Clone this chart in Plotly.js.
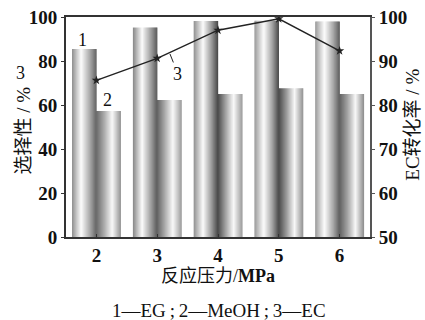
<!DOCTYPE html>
<html><head><meta charset="utf-8">
<script src="https://cdn.plot.ly/plotly-3.0.1.min.js"></script>
<style>html,body{margin:0;padding:0;background:#fff}</style>
</head><body>
<div id="chart" style="width:425px;height:320px"></div>
<script>
// Data
var pressure = [2, 3, 4, 5, 6];              // 反应压力 / MPa
var egSelectivity = [85.5, 95.2, 98.2, 98.3, 97.9];   // 1 — EG 选择性 %
var meohSelectivity = [57.3, 62.3, 65.0, 67.6, 65.0]; // 2 — MeOH 选择性 %
var ecConversion = [85.6, 90.6, 97.0, 99.6, 92.3];    // 3 — EC 转化率 %
var tickVals = [2, 3, 4, 5, 6];
var tickText = ['2', '3', '4', '5', '6'];

// cylinder-like shading: bars drawn as thin overlaid slices
var NS = 24, BW = 0.4;
function shade(t, stops) {
  for (var i = 0; i < stops.length - 1; i++) {
    if (t >= stops[i][0] && t <= stops[i+1][0]) {
      var f = (t - stops[i][0]) / (stops[i+1][0] - stops[i][0]);
      var v = Math.round(stops[i][1] + f * (stops[i+1][1] - stops[i][1]));
      return 'rgb(' + v + ',' + v + ',' + v + ')';
    }
  }
  return '#888';
}
var egStops = [[0, 135], [0.38, 252], [0.75, 150], [1, 70]];
var meStops = [[0, 75], [0.3, 150], [0.65, 248], [1, 140]];
var traces = [];
function addBar(vals, base, stops, name) {
  for (var s = 0; s < NS; s++) {
    var t = (s + 0.5) / NS;
    traces.push({
      type: 'bar', x: pressure, y: vals, name: name, showlegend: false,
      width: BW / NS + 0.003, offset: base + s * BW / NS,
      marker: {color: shade(t, stops), line: {width: 0}},
      hoverinfo: 'skip'
    });
  }
}
addBar(egSelectivity, -BW, egStops, 'EG');
addBar(meohSelectivity, 0, meStops, 'MeOH');
traces.push({
  type: 'scatter', mode: 'lines+markers', x: pressure, y: ecConversion, yaxis: 'y2',
  line: {color: '#222', width: 1.4},
  marker: {symbol: 'star', size: 7, color: '#222'},
  showlegend: false, name: 'EC'
});

var serif = '"Liberation Serif", "Noto Sans CJK SC", serif';
var layout = {
  width: 425, height: 320,
  margin: {l: 66, r: 55, t: 17, b: 83},
  paper_bgcolor: '#fff', plot_bgcolor: '#fff',
  barmode: 'overlay',
  font: {family: serif, color: '#111', size: 17},
  xaxis: {
    range: [1.5, 6.5], tickvals: tickVals, ticktext: tickText,
    showline: true, linecolor: '#333', linewidth: 2, mirror: true,
    ticks: 'inside', ticklen: 3, tickcolor: '#333', showgrid: false, zeroline: false,
    tickfont: {family: serif, size: 19, weight: 'bold'},
    title: {text: '反应压力/<b>MPa</b>', font: {family: serif, size: 18}, standoff: 0}
  },
  yaxis: {
    range: [0, 100], tickvals: [0, 20, 40, 60, 80, 100],
    showline: true, linecolor: '#333', linewidth: 2,
    ticks: 'outside', ticklen: 3, tickcolor: '#333', showgrid: false, zeroline: false,
    tickfont: {family: serif, size: 19, weight: 'bold'}
  },
  yaxis2: {
    overlaying: 'y', side: 'right', range: [50, 100], tickvals: [50, 60, 70, 80, 90, 100],
    showline: true, linecolor: '#555', linewidth: 2,
    ticks: 'outside', ticklen: 3, tickcolor: '#555', showgrid: false, zeroline: false,
    tickfont: {family: serif, size: 19, weight: 'bold'}
  },
  annotations: [
    {xref: 'paper', yref: 'paper', x: -0.141, y: 0.485, xanchor: 'center', yanchor: 'middle',
     text: '选择性 / %', textangle: -90, showarrow: false, font: {family: serif, size: 19}},
    {xref: 'paper', yref: 'paper', x: 1.141, y: 0.51, xanchor: 'center', yanchor: 'middle',
     text: 'EC转化率 / %', textangle: -90, showarrow: false, font: {family: serif, size: 19}},
    {xref: 'x', yref: 'y', x: 1.77, y: 89.5, text: '1', showarrow: false, font: {size: 18}},
    {xref: 'x', yref: 'y', x: 2.18, y: 62.3, text: '2', showarrow: false, font: {size: 18}},
    {xref: 'x', yref: 'y', x: 3.21, y: 83.2, text: '3', showarrow: true, arrowhead: 0,
     arrowwidth: 1, arrowcolor: '#222', ax: 8, ay: 20, standoff: 0, font: {size: 18}},
    {xref: 'paper', yref: 'paper', x: -0.151, y: 0.745, xanchor: 'center', yanchor: 'middle',
     text: '3', showarrow: false, font: {size: 18}},
    {xref: 'paper', yref: 'paper', x: 0.503, y: -0.336, xanchor: 'center', yanchor: 'middle',
     text: '1—EG\u2009;\u20092—MeOH\u2009;\u20093—EC', showarrow: false, font: {family: serif, size: 19}}
  ]
};
Plotly.newPlot('chart', traces, layout, {displayModeBar: false, staticPlot: true});
</script>
</body></html>
